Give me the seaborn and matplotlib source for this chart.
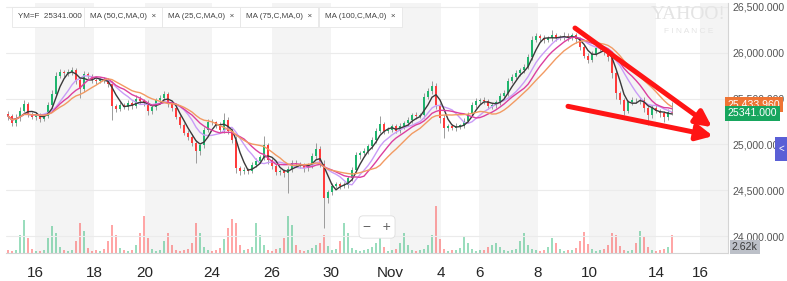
import matplotlib
matplotlib.use("Agg")
import matplotlib.pyplot as plt
from matplotlib.patches import Rectangle
import matplotlib.transforms as mtransforms
import seaborn as sns
import pandas as pd
import numpy as np

# Price bars (one bar per ~4 px of the original)
first_open = 25330
closes = [25310, 25230, 25290, 25370, 25440, 25330, 25300, 25320, 25280, 25310,
          25430, 25550, 25750, 25790, 25775, 25790, 25810, 25700, 25600, 25770,
          25745, 25700, 25690, 25715, 25695, 25660, 25420, 25390, 25430, 25410,
          25450, 25420, 25500, 25470, 25450, 25360, 25410, 25480, 25510, 25550,
          25440, 25400, 25300, 25210, 25130, 25080, 25020, 24930, 24990, 25160,
          25250, 25240, 25210, 25160, 25270, 25150, 25050, 24740, 24710, 24720,
          24710, 24780, 24820, 24860, 24990, 24830, 24760, 24700, 24710, 24690,
          24730, 24800, 24790, 24770, 24740, 24770, 24870, 24950, 24790, 24420,
          24480, 24550, 24570, 24550, 24560, 24630, 24720, 24880, 24905, 24930,
          24980, 25050, 25145, 25220, 25150, 25160, 25200, 25150, 25200, 25230,
          25265, 25320, 25310, 25320, 25520, 25580, 25640, 25430, 25290, 25180,
          25200, 25180, 25200, 25200, 25260, 25330, 25430, 25475, 25485, 25470,
          25420, 25425, 25460, 25530, 25560, 25690, 25740, 25780, 25810, 25850,
          25950, 26140, 26185, 26165, 26140, 26160, 26190, 26160, 26170, 26185,
          26160, 26190, 26150, 26060, 25970, 25920, 25990, 26050, 26050, 26010,
          25950, 25780, 25560, 25480, 25370, 25460, 25490, 25480, 25490, 25400,
          25320, 25400, 25370, 25340, 25300, 25350, 25341]
wick_hi = [30, 25, 40, 35, 45, 20, 25, 30, 20, 25,
           30, 40, 35, 30, 25, 30, 40, 25, 30, 35,
           25, 20, 30, 25, 20, 25, 30, 25, 30, 20,
           35, 25, 40, 30, 25, 30, 25, 30, 25, 35,
           25, 20, 30, 25, 20, 25, 30, 25, 20, 30,
           30, 25, 20, 30, 75, 25, 30, 40, 25, 30,
           20, 25, 30, 25, 100, 25, 20, 30, 25, 20,
           30, 25, 30, 20, 25, 30, 35, 65, 30, 40,
           25, 30, 20, 25, 30, 25, 30, 35, 25, 30,
           25, 30, 35, 90, 25, 30, 25, 20, 30, 25,
           30, 25, 30, 25, 40, 35, 55, 30, 25, 30,
           25, 20, 30, 25, 30, 25, 30, 35, 25, 30,
           25, 30, 25, 30, 35, 30, 25, 30, 25, 30,
           35, 40, 30, 25, 30, 25, 60, 30, 25, 40,
           30, 25, 30, 25, 20, 25, 30, 25, 30, 25,
           30, 40, 30, 25, 30, 25, 30, 20, 25, 30,
           25, 30, 25, 20, 30, 40, 110]
wick_lo = [40, 30, 25, 30, 20, 35, 25, 30, 35, 25,
           25, 30, 25, 30, 35, 25, 30, 40, 90, 25,
           30, 25, 30, 20, 25, 30, 150, 35, 30, 25,
           30, 35, 25, 30, 35, 40, 25, 30, 25, 30,
           35, 30, 25, 30, 25, 30, 35, 130, 40, 30,
           25, 30, 35, 25, 30, 40, 35, 50, 40, 35,
           30, 25, 30, 25, 30, 40, 30, 35, 30, 40,
           220, 30, 25, 30, 35, 25, 30, 25, 40, 330,
           60, 35, 30, 40, 30, 35, 25, 30, 35, 25,
           30, 25, 30, 25, 35, 30, 25, 30, 25, 30,
           25, 30, 35, 25, 30, 25, 30, 40, 60, 110,
           30, 25, 35, 30, 25, 30, 25, 30, 35, 25,
           35, 30, 25, 30, 25, 30, 25, 30, 35, 30,
           25, 30, 25, 35, 30, 25, 30, 35, 25, 30,
           30, 25, 40, 35, 30, 30, 25, 30, 35, 30,
           40, 50, 60, 40, 50, 30, 35, 30, 40, 45,
           110, 35, 30, 40, 50, 30, 25]
volume_k = [1.3, 0.9, 1.3, 7.9, 14.5, 6.6, 1.8, 0.9, 0.9, 1.3,
            6.6, 11.9, 8.8, 2.6, 1.3, 0.9, 1.3, 5.3, 13.2, 9.7,
            2.2, 0.9, 1.3, 0.9, 1.8, 5.3, 12.3, 7.9, 2.2, 1.3,
            0.9, 1.3, 3.5, 8.8, 16.3, 6.6, 1.8, 0.9, 1.3, 5.3,
            8.8, 3.5, 1.3, 0.9, 1.3, 1.8, 4.4, 13.2, 8.8, 2.6,
            1.3, 0.9, 1.3, 2.2, 6.2, 11.0, 15.0, 13.2, 3.5, 1.3,
            1.8, 2.6, 13.2, 7.9, 3.5, 1.3, 0.9, 1.8, 2.2, 6.6,
            16.3, 12.3, 3.5, 1.3, 0.9, 1.3, 2.2, 3.5, 4.4, 7.9,
            3.1, 1.3, 1.8, 5.3, 13.2, 8.8, 2.2, 1.3, 0.9, 1.3,
            1.8, 2.6, 4.4, 7.9, 2.6, 0.9, 1.3, 1.8, 4.4, 8.8,
            3.5, 1.3, 0.9, 1.3, 1.8, 3.5, 7.9, 20.7, 6.2, 1.8,
            0.9, 1.3, 1.3, 2.2, 7.0, 4.4, 1.8, 0.9, 1.3, 1.3,
            2.6, 3.5, 4.4, 2.6, 1.3, 0.9, 1.3, 1.8, 5.3, 8.8,
            3.5, 1.8, 1.3, 0.9, 1.3, 2.6, 6.6, 4.4, 1.8, 0.9,
            1.3, 1.3, 2.2, 5.3, 9.2, 4.0, 1.8, 0.9, 1.3, 1.8,
            3.5, 8.8, 7.9, 3.1, 1.3, 0.9, 1.3, 4.4, 9.7, 7.0,
            2.6, 1.3, 0.9, 1.3, 1.8, 2.6, 7.9]

# Moving averages (windows scaled to the coarser bars)
ma_labels = ['MA (50,C,MA,0)', 'MA (25,C,MA,0)', 'MA (75,C,MA,0)', 'MA (100,C,MA,0)']
ma_windows = [8, 4, 11, 15]
ma_colors = ['#c99cf7', '#3a3a3a', '#dc3f9f', '#f29a62']

# Axis labels
day_labels = ['16', '18', '20', '24', '26', '30', 'Nov', '4', '6', '8', '10', '14', '16']
day_pos = [6.75, 21.5, 34.25, 51, 66, 80.75, 95.5, 108.25, 117.75, 132.5, 145.25, 162, 173]
price_ticks = [24000, 24500, 25000, 25500, 26000, 26500]

# Hand-drawn trend arrows
arrow_from = [(141.75, 26270), (140, 25416)]
arrow_to = [(176, 25189), (176.25, 25092)]

symbol = 'YM=F'
last_price = 25341.0
ma_last = 25433.96
last_volume = '2.62k'

# Build frame
df = pd.DataFrame({'close': closes, 'whi': wick_hi, 'wlo': wick_lo, 'vol': volume_k})
df['open'] = df['close'].shift(1).fillna(first_open)
df['top'] = df[['open', 'close']].max(axis=1)
df['bot'] = df[['open', 'close']].min(axis=1)
df['high'] = df['top'] + df['whi']
df['low'] = df['bot'] - df['wlo']
df['up'] = df['close'] >= df['open']
for lab, w in zip(ma_labels, ma_windows):
    df[lab] = df['close'].rolling(w, min_periods=1).mean()

sns.set_theme(style="white")
plt.rcParams['font.family'] = ['Liberation Sans', 'DejaVu Sans']

W, H = 787, 281
fig = plt.figure(figsize=(W / 100, H / 100), dpi=100)
L, R, T, B = 6, 728, 3, 253
vax = fig.add_axes([L / W, 1 - B / H, (R - L) / W, (B - T) / H])
ax = vax.twinx()
ax.set_zorder(vax.get_zorder() + 1)
ax.patch.set_visible(False)

xlim = (-0.5, 180)
ax.set_xlim(*xlim)
vax.set_xlim(*xlim)
ax.set_ylim(23816, 26543)
vax.set_ylim(0, 110)

# Alternating day bands
edges = day_pos + [xlim[1]]
for k in range(0, len(day_pos), 2):
    vax.axvspan(edges[k], edges[k + 1], color='#f4f4f4', lw=0, zorder=0)

# Volume
green, red = '#1fb56d', '#ff3b3b'
vcol = [green if u else red for u in df['up']]
vax.bar(df.index, df['vol'], width=0.7, color=vcol, alpha=0.45, lw=0, zorder=2)
vax.set_yticks([])
vax.set_xticks([])
for s in vax.spines.values():
    s.set_visible(False)

# Grid
for p in price_ticks:
    ax.axhline(p, color='#ebebeb', lw=0.8, zorder=1)

# Candles
ax.vlines(df.index, df['low'], df['high'], color='#8c8c8c', lw=0.6, zorder=3)
body = np.maximum(df['top'] - df['bot'], 8)
ax.bar(df.index, body, bottom=df['bot'], width=0.62,
       color=[green if u else red for u in df['up']], lw=0, zorder=4)

# Moving averages
for lab, c in zip(ma_labels, ma_colors):
    sns.lineplot(x=df.index, y=df[lab], ax=ax, color=c, lw=1.0, zorder=5)
ax.set_xlabel('')
ax.set_ylabel('')

# Axes styling
ax.set_yticks(price_ticks)
ax.set_yticklabels([f"{p:,.3f}" for p in price_ticks])
ax.yaxis.tick_right()
ax.tick_params(axis='y', length=0, pad=3, labelsize=7.6, labelcolor='#555555')
ax.set_xticks(day_pos)
ax.set_xticklabels(day_labels)
ax.tick_params(axis='x', length=0, pad=5, labelsize=7.5, labelcolor='#8a8a8a')
for lab in ax.get_xticklabels():
    if lab.get_text() == 'Nov':
        lab.set_color('#555555')
for side in ['top', 'left']:
    ax.spines[side].set_visible(False)
for side in ['right', 'bottom']:
    ax.spines[side].set_color('#d4d4d4')
    ax.spines[side].set_linewidth(0.8)

# Arrows
for a, b in zip(arrow_from, arrow_to):
    ax.annotate('', xy=b, xytext=a, zorder=8,
                arrowprops=dict(arrowstyle='-|>', color='#ff1414', lw=3.6,
                                mutation_scale=24, shrinkA=0, shrinkB=0))

# Price flags on the right axis
trans = mtransforms.blended_transform_factory(ax.transAxes, ax.transData)
ax.text(1.0, ma_last, f"{ma_last:,.3f}", transform=trans, ha='left', va='center',
        fontsize=7.6, color='white', clip_on=False, zorder=9,
        bbox=dict(boxstyle='square,pad=0.25', fc='#ee7434', ec='none'))
ax.text(1.0, last_price, f"{last_price:.3f}", transform=trans, ha='left', va='center',
        fontsize=7.6, color='white', clip_on=False, zorder=10,
        bbox=dict(boxstyle='square,pad=0.25', fc='#17a65e', ec='none'))
fig.text(732 / W, 1 - 247 / H, last_volume, ha='left', va='center', fontsize=7.6,
         color='#3a3a3a', bbox=dict(boxstyle='square,pad=0.2', fc='#bcc0c8', ec='none'))

# Watermark
ax.text(0.945, 0.955, 'YAHOO!', transform=ax.transAxes, ha='center', va='center',
        fontsize=14, color='#e4e4e4', family='Liberation Serif', zorder=1)
ax.text(0.945, 0.885, 'F I N A N C E', transform=ax.transAxes, ha='center', va='center',
        fontsize=6, color='#e4e4e4', zorder=1)

# Legend chips
fig.patches.append(Rectangle((13 / W, 1 - 27 / H), 3 / W, 19 / H, transform=fig.transFigure,
                             fc='#1e88e5', ec='none', zorder=10))
chips = [f"{symbol}  {last_price:.3f}"] + [m + '  \u00d7' for m in ma_labels]
chip_x = [18, 90, 168, 246, 325]
for cx, txt in zip(chip_x, chips):
    fig.text(cx / W, 1 - 17 / H, txt, ha='left', va='center', fontsize=5.8, color='#444444',
             bbox=dict(boxstyle='square,pad=0.75', fc='white', ec='#e6e6e6', lw=0.6), zorder=10)

# Zoom control
fig.text(377 / W, 1 - 227 / H, '\u2212   +', ha='center', va='center', fontsize=10, color='#666666',
         bbox=dict(boxstyle='round,pad=0.3', fc='white', ec='#dddddd', lw=0.6), zorder=10)

# Side tab
fig.patches.append(Rectangle((775 / W, 1 - 161 / H), 12 / W, 24 / H, transform=fig.transFigure,
                             fc='#5a5fd6', ec='none', zorder=10))
fig.text(781 / W, 1 - 149 / H, '<', ha='center', va='center', fontsize=7, color='white', zorder=11)

fig.savefig('out.png', dpi=100, facecolor='white')
